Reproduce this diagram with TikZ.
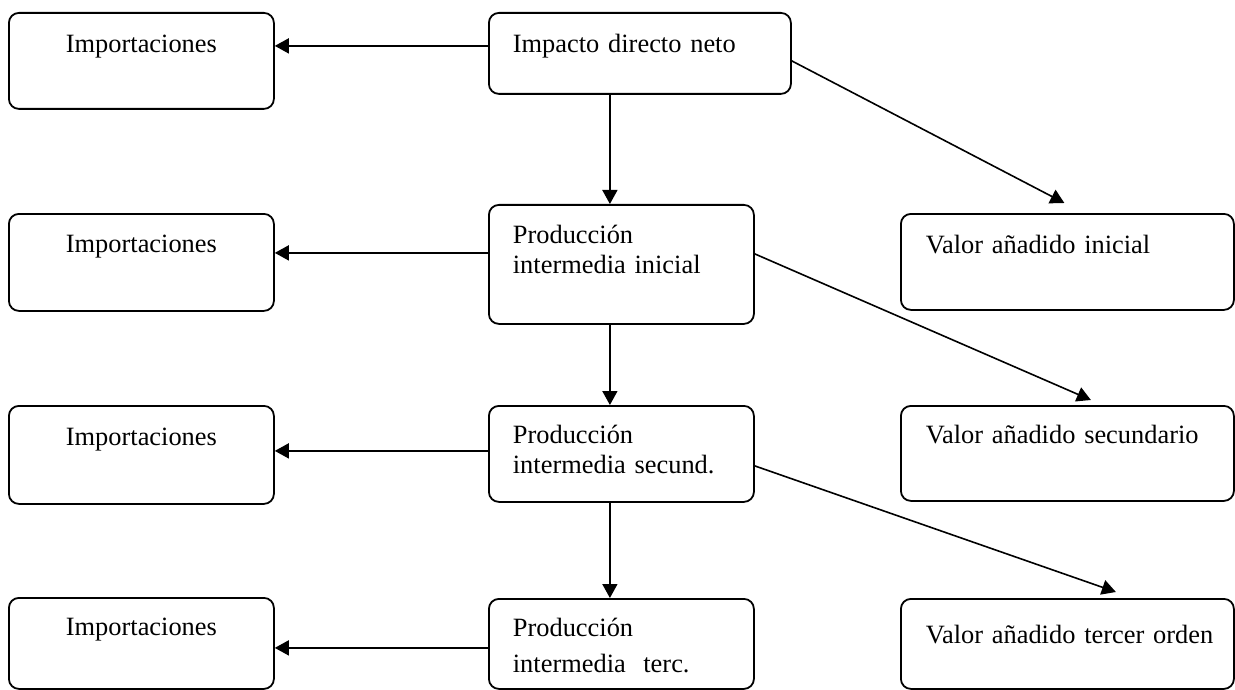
\documentclass[tikz,border=0pt]{standalone}
\usepackage{fontspec}
\setmainfont{Liberation Serif}
\usepackage{xcolor}
\usepackage{tikz}
\usetikzlibrary{arrows.meta,positioning,calc}
\newcommand{\boxfont}{\fontsize{26.4}{30}\selectfont}

\begin{document}
\begin{tikzpicture}[
  x=1pt,y=-1pt,
  b/.style={rectangle,rounded corners=10pt,draw=black,line width=1.8pt,anchor=north west,inner ysep=0pt,font=\boxfont},
  imp/.style={b,inner xsep=0pt,align=center,minimum width=265pt},
  mid/.style={b,inner xsep=24pt,align=left},
  va/.style={b,inner xsep=25pt,align=left,text width=283pt},
  arr/.style={-{Triangle[length=14pt,width=15pt]},line width=1.6pt,draw=black}
]
\useasboundingbox (0,0) rectangle (1235,690);
\node[imp,text height=40pt,text depth=56pt] (imp1) at (8,12) {Importaciones};
\node[imp,text height=39pt,text depth=58pt] (imp2) at (8,213) {Importaciones};
\node[imp,text height=40pt,text depth=58pt] (imp3) at (8,405) {Importaciones};
\node[imp,text height=38pt,text depth=53pt] (imp4) at (8,597) {Importaciones};
\node[mid,text width=254pt,text height=40pt,text depth=41pt] (direct) at (488,12) {Impacto directo neto};
\node[mid,text width=217pt,text height=39pt,text depth=80pt] (prod1) at (488,204) {Producción\\intermedia inicial};
\node[mid,text width=217pt,text height=38pt,text depth=58pt] (prod2) at (488,405) {Producción\\intermedia secund.};
\node[mid,text width=217pt,text height=38pt,text depth=52pt] (prod3) at (488,598) {Producción\\[6pt]intermedia~ terc.};
\node[va,text height=40pt,text depth=56pt] (va1) at (900,213) {Valor añadido inicial};
\node[va,text height=38pt,text depth=57pt] (va2) at (900,405) {Valor añadido secundario};
\node[va,text height=45pt,text depth=45pt] (va3) at (900,598) {\mbox{Valor añadido tercer orden}};
% imports
\draw[arr] ([yshift=7.5pt]direct.west)-- ([yshift=7.5pt]direct.west -| imp1.east);
\draw[arr] ([yshift=11.5pt]prod1.west)-- ([yshift=11.5pt]prod1.west -| imp2.east);
\draw[arr] ([yshift=3pt]prod2.west)-- ([yshift=3pt]prod2.west -| imp3.east);
\draw[arr] ([yshift=-4pt]prod3.west)-- ([yshift=-4pt]prod3.west -| imp4.east);
% production chain
\draw[arr] ([xshift=-11.5pt]prod1.north |- direct.south)-- ([xshift=-11.5pt]prod1.north);
\draw[arr] ([xshift=-11.5pt]prod1.south)-- ([xshift=-11.5pt]prod2.north);
\draw[arr] ([xshift=-11.5pt]prod2.south)-- ([xshift=-11.5pt]prod3.north);
% value added
\draw[arr] ([yshift=-7.5pt]direct.east)-- ([shift={(-3pt,10pt)}]va1.north);
\draw[arr] ([yshift=10.5pt]prod1.east)-- ([shift={(23.5pt,5pt)}]va2.north);
\draw[arr] ([yshift=-12pt]prod2.east)-- ([shift={(48.5pt,6pt)}]va3.north);
\end{tikzpicture}
\end{document}
